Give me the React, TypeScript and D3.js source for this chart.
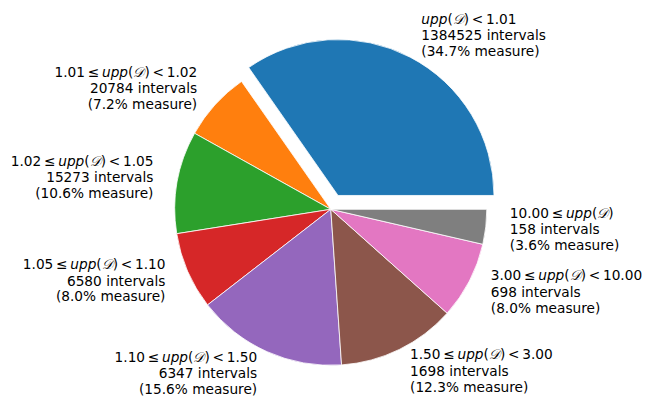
import * as d3 from 'd3';
import React from 'react';

// slice data, in pie order (counter-clockwise from 3 o'clock)
const lowerBounds: (string | null)[] = [null, '1.01', '1.02', '1.05', '1.10', '1.50', '3.00', '10.00'];
const upperBounds: (string | null)[] = ['1.01', '1.02', '1.05', '1.10', '1.50', '3.00', '10.00', null];
const intervalCounts = [1384525, 20784, 15273, 6580, 6347, 1698, 698, 158];
const measures = [34.7, 7.2, 10.6, 8.0, 15.6, 12.3, 8.0, 3.6];
const explode = [0.1, 0, 0, 0, 0, 0, 0, 0];
const colors = ['#1f77b4', '#ff7f0e', '#2ca02c', '#d62728', '#9467bd', '#8c564b', '#e377c2', '#7f7f7f'];

const W = 654;
const H = 418;
const cx = 330.8;
const cy = 209.3;
const R = 156;
const labelDist = 1.155;
const fontSize = 13.7;
const lineH = 15.9;

const App = () => {
  // matplotlib starts at east and runs counter-clockwise
  const pie = d3
    .pie<number>()
    .sort(null)
    .value(d => d)
    .startAngle(Math.PI / 2)
    .endAngle(Math.PI / 2 - 2 * Math.PI);
  const arcs = pie(measures);
  const arc = d3.arc<d3.PieArcDatum<number>>().innerRadius(0).outerRadius(R);

  return (
    <svg
      width={W}
      height={H}
      style={{ position: 'absolute', left: 0, top: 0, background: '#fff' }}
      fontFamily="'DejaVu Sans', sans-serif"
      fontSize={fontSize}
    >
      <g transform={`translate(${cx},${cy})`}>
        {arcs.map((a, i) => {
          const mid = (a.startAngle + a.endAngle) / 2;
          const ox = Math.sin(mid) * explode[i] * R;
          const oy = -Math.cos(mid) * explode[i] * R;
          return (
            <path
              key={i}
              d={arc(a) || ''}
              transform={`translate(${ox},${oy})`}
              fill={colors[i]}
              stroke="#fff"
              strokeWidth={0.8}
              strokeLinejoin="round"
            />
          );
        })}
        {arcs.map((a, i) => {
          const mid = (a.startAngle + a.endAngle) / 2;
          const d = (explode[i] + labelDist) * R;
          const x = Math.sin(mid) * d;
          const y = -Math.cos(mid) * d;
          const anchor = x < 0 ? 'end' : 'start';
          const base = y + 0.34 * fontSize;
          return (
            <text key={i} textAnchor={anchor} fill="#000">
              <tspan x={x} y={base - lineH - 0.5}>
                {lowerBounds[i] !== null ? `${lowerBounds[i]}\u2009≤\u2009` : ''}
                <tspan fontStyle="italic">upp</tspan>
                (<tspan fontFamily="'DejaVu Serif', serif" fontStyle="italic">𝒟</tspan>)
                {upperBounds[i] !== null ? `\u2009<\u2009${upperBounds[i]}` : ''}
              </tspan>
              <tspan x={x} y={base}>
                {`${intervalCounts[i]} intervals`}
              </tspan>
              <tspan x={x} y={base + lineH}>
                {`(${measures[i].toFixed(1)}% measure)`}
              </tspan>
            </text>
          );
        })}
      </g>
    </svg>
  );
};

export default App;
